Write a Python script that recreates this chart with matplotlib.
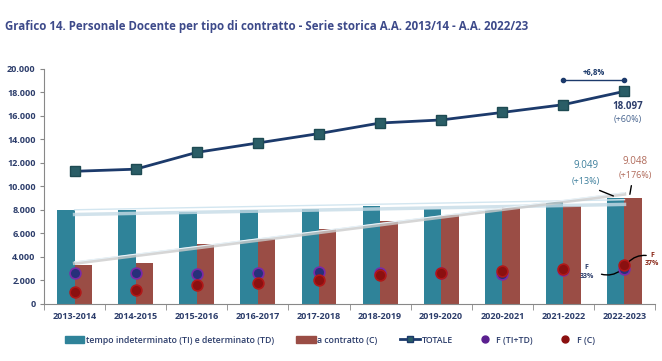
import numpy as np
import matplotlib
matplotlib.use("Agg")
import matplotlib.pyplot as plt
from matplotlib.lines import Line2D
from matplotlib.patches import Patch

plt.rcParams['font.family'] = ['Open Sans', 'DejaVu Sans']

anni = ['2013-2014', '2014-2015', '2015-2016', '2016-2017', '2017-2018',
        '2018-2019', '2019-2020', '2020-2021', '2021-2022', '2022-2023']
ti_td = [8000, 7980, 7800, 8000, 8050, 8300, 8085, 8025, 8650, 9049]
contratto = [3290, 3490, 5130, 5530, 6380, 7060, 7600, 8250, 8300, 9048]
totale = [11290, 11470, 12900, 13700, 14500, 15400, 15660, 16300, 16960, 18097]
f_ti_td = [2640, 2640, 2550, 2640, 2700, 2650, 2600, 2550, 2850, 2986]
f_c = [1020, 1160, 1620, 1790, 2040, 2490, 2640, 2830, 2980, 3348]

c_ti = '#2f8399'
c_c = '#9a4d45'
c_tot = '#1c3a6b'
navy = '#2c3d6b'

fig = plt.figure(figsize=(6.62, 3.61), dpi=100)
ax = fig.add_axes([0.0665, 0.158, 0.923, 0.651])

x = np.arange(len(anni))
w = 0.285
ax.bar(x - w / 2, ti_td, w, color=c_ti, zorder=2)
ax.bar(x + w / 2, contratto, w, color=c_c, zorder=2)

# linee di tendenza
p1 = np.polyfit(x, ti_td, 1)
p2 = np.polyfit(x, contratto, 1)
ax.plot(x, np.polyval(p1, x) - 150, color='#c6dbe6', lw=2.5, alpha=0.8, zorder=3)
ax.plot(x, np.polyval(p1, x) + 250, color='#d3e6f0', lw=1, zorder=3)
ax.plot(x, np.polyval(p2, x), color='#cccccc', lw=2.5, alpha=0.8, zorder=3)
ax.plot(x, np.polyval(p2, x) + 120, color='#e8f3f9', lw=0.8, zorder=3)

ax.plot(x, totale, color=c_tot, lw=2, marker='s', ms=7,
        mfc='#2a5d66', mec='#1e4a52', zorder=5)
ax.scatter(x, f_ti_td, s=60, color='#27307a', edgecolor='#7a2aa8', lw=1.2, zorder=6)
ax.scatter(x, f_c, s=60, color='#8b1010', edgecolor='#b01818', lw=1.2, zorder=6)

ax.set_xlim(-0.5, 9.5)
ax.set_ylim(0, 20000)
ax.set_yticks(range(0, 20001, 2000))
ax.set_yticklabels([f'{v:,}'.replace(',', '.') for v in range(0, 20001, 2000)],
                   fontsize=6.5, fontweight='bold', color=navy)
ax.set_xticks(x)
ax.set_xticklabels(anni, fontsize=6.5, fontweight='bold', color=navy)
ax.set_xticks(np.arange(-0.5, 10, 1), minor=True)
ax.tick_params(axis='x', which='major', length=0, pad=6)
ax.tick_params(axis='x', which='minor', length=4, color='#888888')
ax.tick_params(axis='y', length=3, color='#888888', pad=3)
for s in ['top', 'right']:
    ax.spines[s].set_visible(False)
ax.spines['left'].set_color('#888888')
ax.spines['bottom'].set_color('#888888')

# annotazioni
ax.plot([8, 9], [19050, 19050], color=c_tot, lw=1, marker='o', ms=3, zorder=6)
ax.text(8.5, 19350, '+6,8%', fontsize=5.5, fontweight='bold', color=c_tot,
        ha='center', va='bottom')
ax.text(9.05, 16600, '18.097', fontsize=7, fontweight='bold', color=navy, ha='center')
ax.text(9.05, 15450, '(+60%)', fontsize=6.5, color='#4a6690', ha='center')
ax.text(8.37, 11550, '9.049', fontsize=7, color='#3d7f9c', ha='center')
ax.text(8.37, 10250, '(+13%)', fontsize=6.5, color='#3d7f9c', ha='center')
ax.text(9.18, 11950, '9.048', fontsize=7, color='#b06a5a', ha='center')
ax.text(9.18, 10750, '(+176%)', fontsize=6.5, color='#b06a5a', ha='center')
ax.annotate('', xy=(8.86, 9100), xytext=(8.55, 9750),
            arrowprops=dict(arrowstyle='-', color='black', lw=1))
ax.annotate('', xy=(9.08, 9100), xytext=(9.12, 10300),
            arrowprops=dict(arrowstyle='-', color='black', lw=1))
ax.text(8.38, 2700, 'F\n33%', fontsize=5, fontweight='bold', color=navy,
        ha='center', va='center', linespacing=1.3)
ax.annotate('', xy=(8.97, 3000), xytext=(8.58, 2600),
            arrowprops=dict(arrowstyle='-', color='black', lw=1,
                            connectionstyle='arc3,rad=0.3'))
ax.text(9.45, 3800, 'F\n37%', fontsize=5, fontweight='bold', color='#8b2a1a',
        ha='center', va='center', linespacing=1.3)
ax.annotate('', xy=(9.03, 3350), xytext=(9.4, 4100),
            arrowprops=dict(arrowstyle='-', color='black', lw=1,
                            connectionstyle='arc3,rad=0.3'))

fig.text(0.008, 0.926, 'Grafico 14. Personale Docente per tipo di contratto - '
         'Serie storica A.A. 2013/14 - A.A. 2022/23',
         fontsize=8.3, fontweight='bold', color='#3d4a8a', va='center')

handles = [
    Patch(color=c_ti, label='tempo indeterminato (TI) e determinato (TD)'),
    Patch(color=c_c, label='a contratto (C)'),
    Line2D([], [], color=c_tot, lw=2, marker='s', ms=5, mfc='#2a5d66', label='TOTALE'),
    Line2D([], [], ls='', marker='o', ms=5, color='#5a1f8f', label='F (TI+TD)'),
    Line2D([], [], ls='', marker='o', ms=5, color='#8b1010', label='F (C)'),
]
leg = fig.legend(handles=handles, loc='center', bbox_to_anchor=(0.498, 0.058),
                 ncol=5, frameon=False, fontsize=6.3, handlelength=2.2,
                 handletextpad=0.2, columnspacing=2.6)
for t in leg.get_texts():
    t.set_color(navy)
    t.set_fontweight('semibold')

fig.savefig('out.png', dpi=100)
